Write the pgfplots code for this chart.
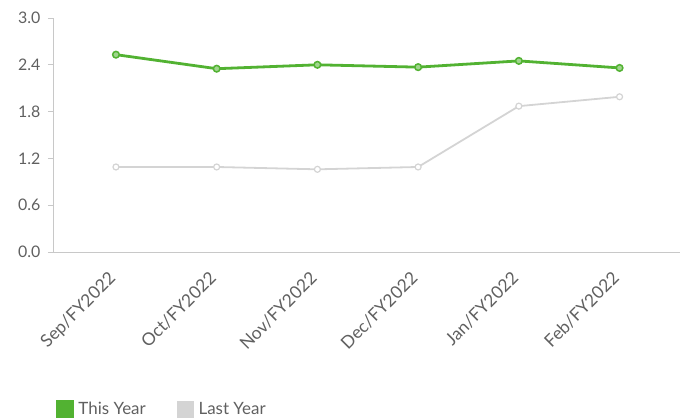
\documentclass[border=0pt]{standalone}
\usepackage{fontspec}
\setmainfont{Lato}
\usepackage{pgfplots}
\pgfplotsset{compat=1.18}
\definecolor{thisyr}{HTML}{52B232}
\definecolor{lastyr}{HTML}{D4D4D4}
\definecolor{axgray}{HTML}{C8C8C8}
\definecolor{txtgray}{HTML}{606060}
\begin{document}
\begin{tikzpicture}
\useasboundingbox (-53bp,-168bp) rectangle (632bp,252bp);
\begin{axis}[
  at={(0,0)}, anchor=south west,
  scale only axis, width=627bp, height=234bp,
  xmin=-0.625, xmax=5.6, ymin=0, ymax=3,
  axis x line=bottom, axis y line=left,
  axis line style={axgray, line width=0.8bp, -},
  ytick={0,0.6,1.2,1.8,2.4,3.0},
  yticklabel style={/pgf/number format/fixed, /pgf/number format/fixed zerofill, /pgf/number format/precision=1, /pgf/number format/assume math mode=true, font=\fontsize{16}{18}\selectfont, text=txtgray, xshift=-4bp},
  ytick style={axgray, line width=0.8bp},
  tick align=outside, major tick length=5bp,
  xtick={0,1,2,3,4,5},
  xticklabels={Sep/FY2022,Oct/FY2022,Nov/FY2022,Dec/FY2022,Jan/FY2022,Feb/FY2022},
  x tick style={draw=none},
  xticklabel style={rotate=45, anchor=north east, font=\fontsize{17.5}{19}\selectfont, text=txtgray, xshift=-12bp, yshift=0bp},
  clip=false,
  legend style={at={(0.004,-0.672)}, anchor=west, draw=none, fill=none, font=\fontsize{17}{19}\selectfont, text=txtgray, legend columns=2, inner xsep=0pt, /tikz/every even column/.append style={column sep=29bp}, /tikz/every odd column/.append style={column sep=3bp}},
  legend image code/.code={\fill[#1, draw opacity=1] (0bp,-7.5bp) rectangle (15bp,7.5bp);},
]
\addplot[thisyr, line width=2.8bp, mark=*, mark size=3.3bp, mark options={fill=thisyr!55!white, draw=thisyr, line width=1.5bp}]
  coordinates {(0,2.53) (1,2.35) (2,2.40) (3,2.37) (4,2.45) (5,2.36)};
\addlegendentry{This Year}
\addplot[lastyr, line width=1.8bp, mark=*, mark size=3bp, mark options={fill=white, draw=lastyr, line width=1.2bp}]
  coordinates {(0,1.09) (1,1.09) (2,1.06) (3,1.09) (4,1.87) (5,1.99)};
\addlegendentry{Last Year}
\end{axis}
\end{tikzpicture}
\end{document}
